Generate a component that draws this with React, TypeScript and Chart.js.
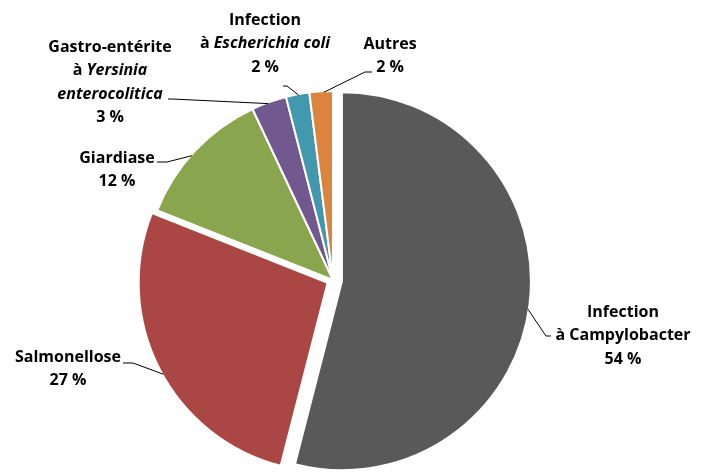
import React, { useEffect, useRef } from 'react';
import { Chart, registerables } from 'chart.js';

Chart.register(...registerables);

const categories = [
  'Infection à Campylobacter',
  'Salmonellose',
  'Giardiase',
  'Gastro-entérite à Yersinia enterocolitica',
  'Infection à Escherichia coli',
  'Autres',
];
const values = [54, 27, 12, 3, 2, 2];
const percentLabels = ['54 %', '27 %', '12 %', '3 %', '2 %', '2 %'];
const colors = ['#595959', '#AA4643', '#89A54E', '#71588F', '#4198AF', '#DB843D'];
const explode = [9, 6, 0, 0, 0, 0];

type Seg = [string, boolean];
const labelLines: Seg[][][] = [
  [[['Infection', false]], [['à Campylobacter', false]]],
  [[['Salmonellose', false]]],
  [[['Giardiase', false]]],
  [[['Gastro-entérite', false]], [['à ', false], ['Yersinia', true]], [['enterocolitica', true]]],
  [[['Infection', false]], [['à ', false], ['Escherichia coli', true]]],
  [[['Autres', false]]],
];

// label placement (text block center x, first line center y, anchor fraction along arc, leader elbow & end)
const labelLayout = [
  { cx: 623, cy: 312, frac: 0.507, elbow: [546, 336], end: [551, 336] },
  { cx: 68, cy: 357, frac: 0.478, elbow: [133, 363], end: [123, 363] },
  { cx: 117, cy: 158, frac: 0.458, elbow: [167, 162], end: [157, 162] },
  { cx: 110, cy: 47, frac: 0.46, elbow: [172, 99], end: [168, 99] },
  { cx: 265, cy: 20, frac: 0.54, elbow: [287, 86], end: [283, 86] },
  { cx: 390, cy: 44, frac: 0.62, elbow: [365, 72], end: [372, 72] },
];

const FONT_FAMILY = '"Open Sans", Lato, sans-serif';
const FONT_SIZE = 16;
const LINE_H = 23.5;

const explodePlugin = {
  id: 'explodeArcs',
  beforeDatasetDraw(chart: any, args: any) {
    const meta = args.meta;
    const ctx = chart.ctx;
    meta.data.forEach((arc: any, i: number) => {
      const p = arc.getProps(['startAngle', 'endAngle'], true);
      const mid = (p.startAngle + p.endAngle) / 2;
      ctx.save();
      ctx.translate(Math.cos(mid) * explode[i], Math.sin(mid) * explode[i]);
      arc.draw(ctx, chart.chartArea);
      ctx.restore();
    });
    return false;
  },
};

const labelPlugin = {
  id: 'pieLabels',
  afterDraw(chart: any) {
    const ctx = chart.ctx;
    const meta = chart.getDatasetMeta(0);
    ctx.save();
    meta.data.forEach((arc: any, i: number) => {
      const p = arc.getProps(['x', 'y', 'startAngle', 'endAngle', 'outerRadius'], true);
      const mid = (p.startAngle + p.endAngle) / 2;
      const cx = p.x + Math.cos(mid) * explode[i];
      const cy = p.y + Math.sin(mid) * explode[i];
      const L = labelLayout[i];
      const a = p.startAngle + L.frac * (p.endAngle - p.startAngle);
      const ax = cx + Math.cos(a) * (p.outerRadius - 1);
      const ay = cy + Math.sin(a) * (p.outerRadius - 1);
      ctx.strokeStyle = '#000';
      ctx.lineWidth = 1;
      ctx.beginPath();
      ctx.moveTo(ax, ay);
      ctx.lineTo(L.elbow[0], L.elbow[1]);
      ctx.lineTo(L.end[0], L.end[1]);
      ctx.stroke();

      const lines: Seg[][] = [...labelLines[i], [[percentLabels[i], false]]];
      ctx.fillStyle = '#000';
      ctx.textBaseline = 'middle';
      ctx.textAlign = 'left';
      lines.forEach((segs, li) => {
        let total = 0;
        const widths = segs.map(([t, it]) => {
          ctx.font = `${it ? 'italic ' : ''}bold ${FONT_SIZE}px ${FONT_FAMILY}`;
          const w = ctx.measureText(t).width;
          total += w;
          return w;
        });
        let x = L.cx - total / 2;
        const y = L.cy + li * LINE_H;
        segs.forEach(([t, it], si) => {
          ctx.font = `${it ? 'italic ' : ''}bold ${FONT_SIZE}px ${FONT_FAMILY}`;
          ctx.fillText(t, x, y);
          x += widths[si];
        });
      });
    });
    ctx.restore();
  },
};

export default function App() {
  const ref = useRef<HTMLCanvasElement | null>(null);
  useEffect(() => {
    if (!ref.current) return;
    const chart = new Chart(ref.current, {
      type: 'pie',
      data: {
        labels: categories,
        datasets: [
          {
            data: values,
            backgroundColor: colors,
            borderColor: '#ffffff',
            borderWidth: 2,
          },
        ],
      },
      options: {
        responsive: false,
        animation: false,
        radius: 189,
        layout: { padding: { top: 86, bottom: 0, left: 0, right: 42 } },
        plugins: {
          legend: { display: false },
          tooltip: { enabled: false },
        },
      } as any,
      plugins: [explodePlugin, labelPlugin],
    });
    return () => chart.destroy();
  }, []);
  return (
    <div style={{ position: 'absolute', left: 0, top: 0, width: 708, height: 474, background: '#fff' }}>
      <canvas ref={ref} width={708} height={474} style={{ display: 'block' }} />
    </div>
  );
}
